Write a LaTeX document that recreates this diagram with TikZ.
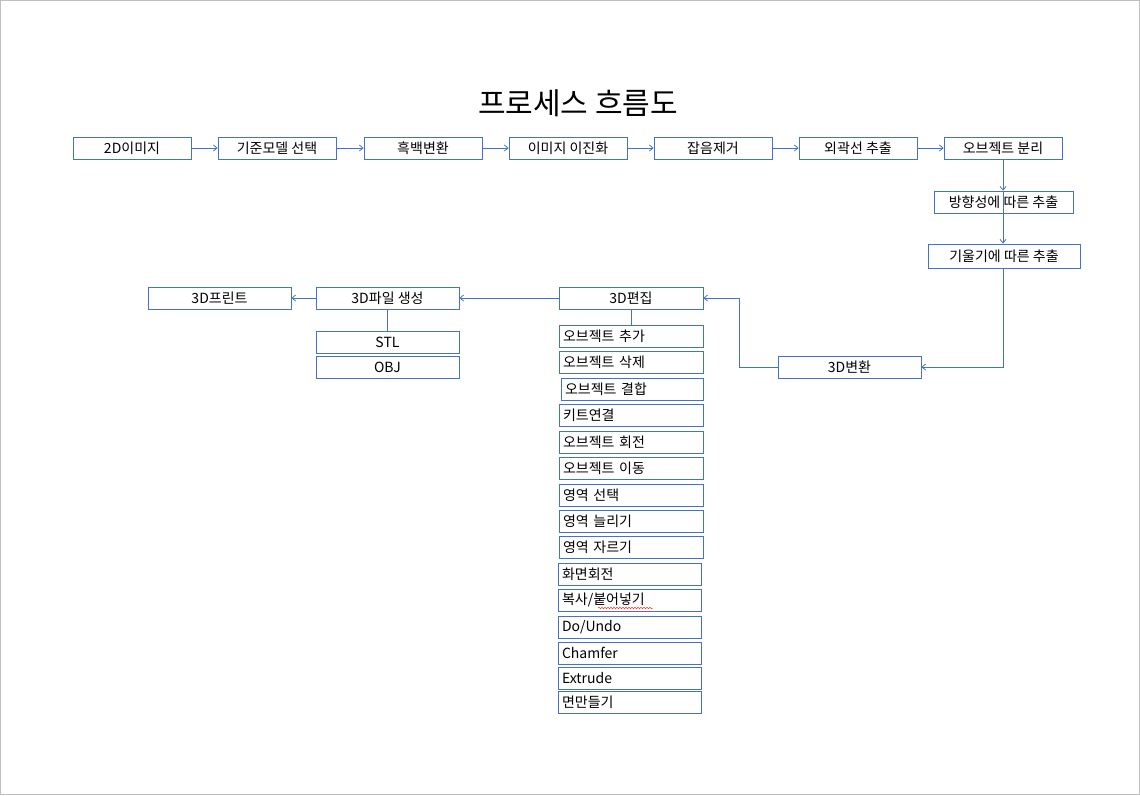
\documentclass[tikz,border=0pt]{standalone}
\usepackage{fontspec}
\setmainfont{Noto Sans CJK KR}
\usetikzlibrary{arrows.meta,decorations.pathmorphing}
\definecolor{ln}{RGB}{68,114,196}
\begin{document}
\begin{tikzpicture}[x=1pt,y=-1pt,
 box/.style={draw=ln,line width=0.9pt,minimum height=22pt,inner sep=0pt,font=\fontsize{14}{16}\selectfont},
 lbox/.style={box,text width=136pt,align=left,inner xsep=4pt,inner ysep=0pt},
 arr/.style={draw=ln,line width=0.8pt,-{Straight Barb[length=3.5pt,width=6pt]}},
 con/.style={draw=ln,line width=0.8pt}]
\useasboundingbox (0,0) rectangle (1140,795);
\draw[black!25,line width=1pt] (0.5,0.5) rectangle (1139.5,794.5);

\node[font=\fontsize{30}{34}\selectfont] (title) at (578,103) {프로세스 흐름도};

\node[box,minimum width=118pt] (a1) at (132,148) {2D이미지};
\node[box,minimum width=118pt] (a2) at (277,148) {기준모델 선택};
\node[box,minimum width=118pt] (a3) at (423,148) {흑백변환};
\node[box,minimum width=118pt] (a4) at (568,148) {이미지 이진화};
\node[box,minimum width=118pt] (a5) at (713,148) {잡음제거};
\node[box,minimum width=118pt] (a6) at (858,148) {외곽선 추출};
\node[box,minimum width=118pt] (a7) at (1003,148) {오브젝트 분리};

\node[box,minimum width=139pt] (b1) at (1003.5,202) {방향성에 따른 추출};
\node[box,minimum width=152pt,minimum height=24pt] (b2) at (1004,256) {기울기에 따른 추출};
\node[box,minimum width=143pt] (c1) at (849.5,367) {3D변환};
\node[box,minimum width=144pt] (d) at (631,298) {3D편집};
\node[box,minimum width=143pt] (f) at (387.5,298) {3D파일 생성};
\node[box,minimum width=143pt] (p) at (219.5,298) {3D프린트};
\node[box,minimum width=143pt] (stl) at (387.5,342) {STL};
\node[box,minimum width=143pt] (obj) at (387.5,367) {OBJ};

\node[lbox] (s1) at (631,336) {오브젝트 추가};
\node[lbox] (s2) at (631,362) {오브젝트 삭제};
\node[lbox,text width=134pt] (s3) at (632,389) {오브젝트 결합};
\node[lbox] (s4) at (631,415) {키트연결};
\node[lbox] (s5) at (631,442) {오브젝트 회전};
\node[lbox] (s6) at (631,468) {오브젝트 이동};
\node[lbox] (s7) at (631,495) {영역 선택};
\node[lbox] (s8) at (631,521) {영역 늘리기};
\node[lbox] (s9) at (631,547) {영역 자르기};
\node[lbox,text width=135pt] (s10) at (629.5,574) {화면회전};
\node[lbox,text width=135pt] (s11) at (629.5,600) {복사/붙어넣기};
\node[lbox,text width=135pt] (s12) at (629.5,627) {Do/Undo};
\node[lbox,text width=135pt] (s13) at (629.5,653) {Chamfer};
\node[lbox,text width=135pt] (s14) at (629.5,678) {Extrude};
\node[lbox,text width=135pt] (s15) at (629.5,702) {면만들기};

\draw[arr] (a1.east) -- (a2.west);
\draw[arr] (a2.east) -- (a3.west);
\draw[arr] (a3.east) -- (a4.west);
\draw[arr] (a4.east) -- (a5.west);
\draw[arr] (a5.east) -- (a6.west);
\draw[arr] (a6.east) -- (a7.west);
\draw[arr] (a7.south) -- (a7.south |- b1.north);
\draw[arr] (a7.south |- b1.north) -- (a7.south |- b2.north);
\draw[arr] (a7.south |- b2.south) |- (c1.east);
\draw[arr] (c1.west) -- ++(-38,0) |- (d.east);
\draw[con] (d.south) -- (d.south |- s1.north);
\draw[arr] (d.west) -- (f.east);
\draw[arr] (f.west) -- (p.east);
\draw[con] (f.south) -- (stl.north);

\draw[red!80,line width=0.5pt,decorate,decoration={snake,amplitude=0.8pt,segment length=3pt}] (598,608) -- (653,608);
\end{tikzpicture}
\end{document}
